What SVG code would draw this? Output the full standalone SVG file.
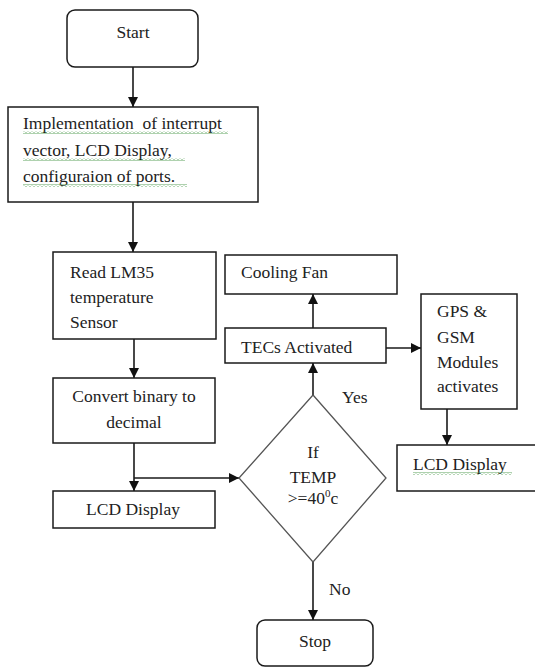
<svg xmlns="http://www.w3.org/2000/svg" width="535" height="667" viewBox="0 0 535 667" font-family="'Liberation Serif', 'Times New Roman', Times, 'DejaVu Serif', serif">
<style>
  .box { fill: #ffffff; stroke: #1a1a1a; stroke-width: 1.5; }
  .dia { fill: #ffffff; stroke: #555555; stroke-width: 1.3; }
  .t { font-family: 'Liberation Serif', 'Times New Roman', Times, 'DejaVu Serif', serif; font-size: 17.5px; fill: #222222; }
  .c { text-anchor: middle; }
  .ln { stroke: #1a1a1a; stroke-width: 1.6; fill: none; marker-end: url(#ah); }
  .sq { fill: url(#squig); }
</style>
<defs>
  <marker id="ah" markerUnits="userSpaceOnUse" viewBox="0 0 10 10" refX="10" refY="5" markerWidth="11" markerHeight="10" orient="auto">
    <path d="M0,0 L10,5 L0,10 z" fill="#111111"/>
  </marker>
  <pattern id="squig" patternUnits="userSpaceOnUse" x="0" y="0" width="4" height="3">
    <path d="M0 2.5 L2 0.5 L4 2.5" stroke="#4c9a4c" stroke-width="0.9" fill="none"/>
  </pattern>
</defs>
<rect width="535" height="667" fill="#ffffff"/>

<g id="connectors">
  <line class="ln" x1="133" y1="67" x2="133" y2="107"/>
  <line class="ln" x1="133" y1="202" x2="133" y2="252"/>
  <line class="ln" x1="134" y1="339" x2="134" y2="378"/>
  <line class="ln" x1="134" y1="443" x2="134" y2="491"/>
  <line class="ln" x1="134" y1="478" x2="239" y2="478"/>
  <line class="ln" x1="313" y1="395" x2="313" y2="363"/>
  <line class="ln" x1="313" y1="328" x2="313" y2="294"/>
  <line class="ln" x1="386" y1="348" x2="421" y2="348"/>
  <line class="ln" x1="447" y1="409" x2="447" y2="445"/>
  <line class="ln" x1="313" y1="562" x2="313" y2="620"/>
  <text class="t" x="342" y="403">Yes</text>
  <text class="t" x="329" y="595">No</text>
</g>

<g id="start">
  <rect class="box" x="67" y="10" width="131" height="57" rx="8"/>
  <text class="t c" x="133" y="38">Start</text>
</g>

<g id="init">
  <rect class="box" x="8" y="107" width="250" height="95"/>
  <text class="t" x="23" y="129" xml:space="preserve">Implementation  of interrupt</text>
  <text class="t" x="23" y="156">vector, LCD Display,</text>
  <text class="t" x="23" y="182">configuraion of ports.</text>
  <rect class="sq" x="23" y="131" width="205" height="3"/>
  <rect class="sq" x="23" y="158" width="162" height="3"/>
  <rect class="sq" x="23" y="184" width="164" height="3"/>
</g>

<g id="read">
  <rect class="box" x="53" y="252" width="163" height="87"/>
  <text class="t" x="70" y="278">Read LM35</text>
  <text class="t" x="70" y="303">temperature</text>
  <text class="t" x="70" y="328">Sensor</text>
</g>

<g id="convert">
  <rect class="box" x="53" y="378" width="162" height="65"/>
  <text class="t c" x="134" y="402">Convert binary to</text>
  <text class="t c" x="134" y="428">decimal</text>
</g>

<g id="lcd1">
  <rect class="box" x="53" y="491" width="162" height="37"/>
  <text class="t c" x="133" y="515">LCD Display</text>
</g>

<g id="decision">
  <polygon class="dia" points="313,395 386,478 313,562 239,478"/>
  <text class="t c" x="313" y="458">If</text>
  <text class="t c" x="313" y="483">TEMP</text>
  <text class="t c" x="313" y="504">&gt;=40<tspan font-size="11" dy="-7">0</tspan><tspan dy="7">c</tspan></text>
</g>

<g id="stop">
  <rect class="box" x="257" y="620" width="116" height="46" rx="8"/>
  <text class="t c" x="315" y="647">Stop</text>
</g>

<g id="tecs">
  <rect class="box" x="225" y="328" width="161" height="35"/>
  <text class="t" x="241" y="353">TECs Activated</text>
</g>

<g id="fan">
  <rect class="box" x="225" y="255" width="172" height="39"/>
  <text class="t" x="241" y="278">Cooling Fan</text>
</g>

<g id="gps">
  <rect class="box" x="421" y="294" width="96" height="115"/>
  <text class="t" x="437" y="317">GPS &amp;</text>
  <text class="t" x="437" y="343">GSM</text>
  <text class="t" x="437" y="368">Modules</text>
  <text class="t" x="437" y="392">activates</text>
</g>

<g id="lcd2">
  <rect class="box" x="397" y="445" width="140" height="46"/>
  <text class="t" x="413" y="470">LCD Display</text>
  <rect class="sq" x="413" y="472" width="99" height="3"/>
</g>
</svg>
